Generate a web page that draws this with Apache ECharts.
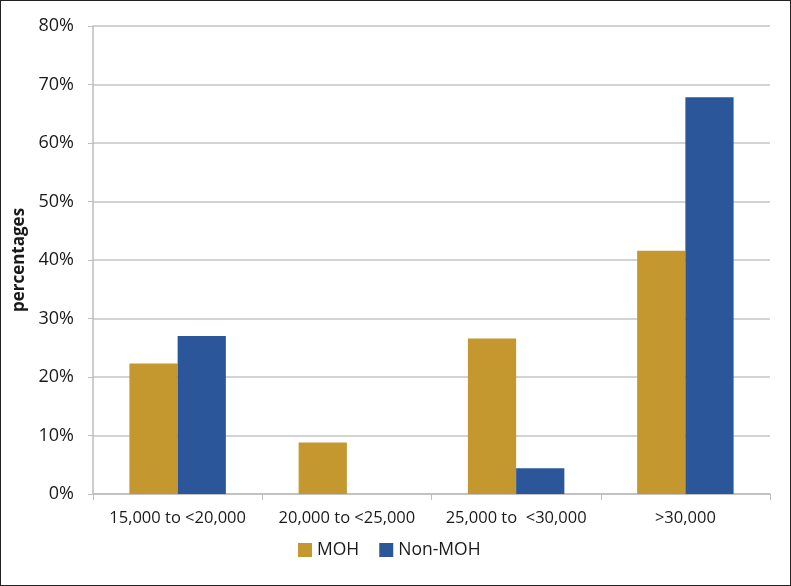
<!DOCTYPE html>
<html><head><meta charset="utf-8">
<script src="https://cdn.jsdelivr.net/npm/echarts@6/dist/echarts.min.js"></script>
<style>html,body{margin:0;padding:0;background:#fff}#c{width:791px;height:586px;box-sizing:border-box;border:1.5px solid #222}</style>
</head><body><div id="c"></div>
<script>
const categories = ['15,000 to <20,000', '20,000 to <25,000', '25,000 to  <30,000', '>30,000'];
const moh = [22.3, 8.8, 26.6, 41.6];
const nonMoh = [27.0, null, 4.4, 67.8];
const yTicks = [0, 10, 20, 30, 40, 50, 60, 70, 80];
const chart = echarts.init(document.getElementById('c'));
const font = '"Open Sans", "Noto Sans", sans-serif';
chart.setOption({
  animation: false,
  textStyle: { fontFamily: font },
  grid: { left: 92, right: 20, top: 25, bottom: 91, containLabel: false },
  legend: {
    top: 535, left: 292, itemWidth: 14, itemHeight: 14, itemGap: 20,
    icon: 'rect',
    textStyle: { fontSize: 17.5, color: '#1a1a1a', fontFamily: font, padding: [0, 0, 0, 0] },
    data: ['MOH', 'Non-MOH']
  },
  xAxis: {
    type: 'category', data: categories,
    axisLine: { lineStyle: { color: '#BDBDBD', width: 1.5 } },
    axisTick: { show: true, length: 6, lineStyle: { color: '#BDBDBD' } },
    axisLabel: { fontSize: 16.5, color: '#1a1a1a', margin: 16, fontFamily: font, interval: 0 }
  },
  yAxis: {
    type: 'value', min: yTicks[0], max: yTicks[yTicks.length - 1], interval: 10,
    name: 'percentages', nameLocation: 'middle', nameGap: 62,
    nameTextStyle: { fontSize: 17, color: '#1a1a1a', fontFamily: font, fontWeight: 'bold' },
    axisLine: { show: true, lineStyle: { color: '#BDBDBD', width: 1.5 } },
    axisTick: { show: true, length: 5, lineStyle: { color: '#BDBDBD' } },
    splitLine: { lineStyle: { color: '#C4C4C4', width: 1.5 } },
    axisLabel: { fontSize: 18, color: '#1a1a1a', margin: 19, fontFamily: font, formatter: '{value}%' }
  },
  series: [
    { name: 'MOH', type: 'bar', data: moh, barGap: '0%', barCategoryGap: '43%', itemStyle: { color: '#C4982F' } },
    { name: 'Non-MOH', type: 'bar', data: nonMoh, itemStyle: { color: '#2B579A' } }
  ]
});
</script></body></html>
